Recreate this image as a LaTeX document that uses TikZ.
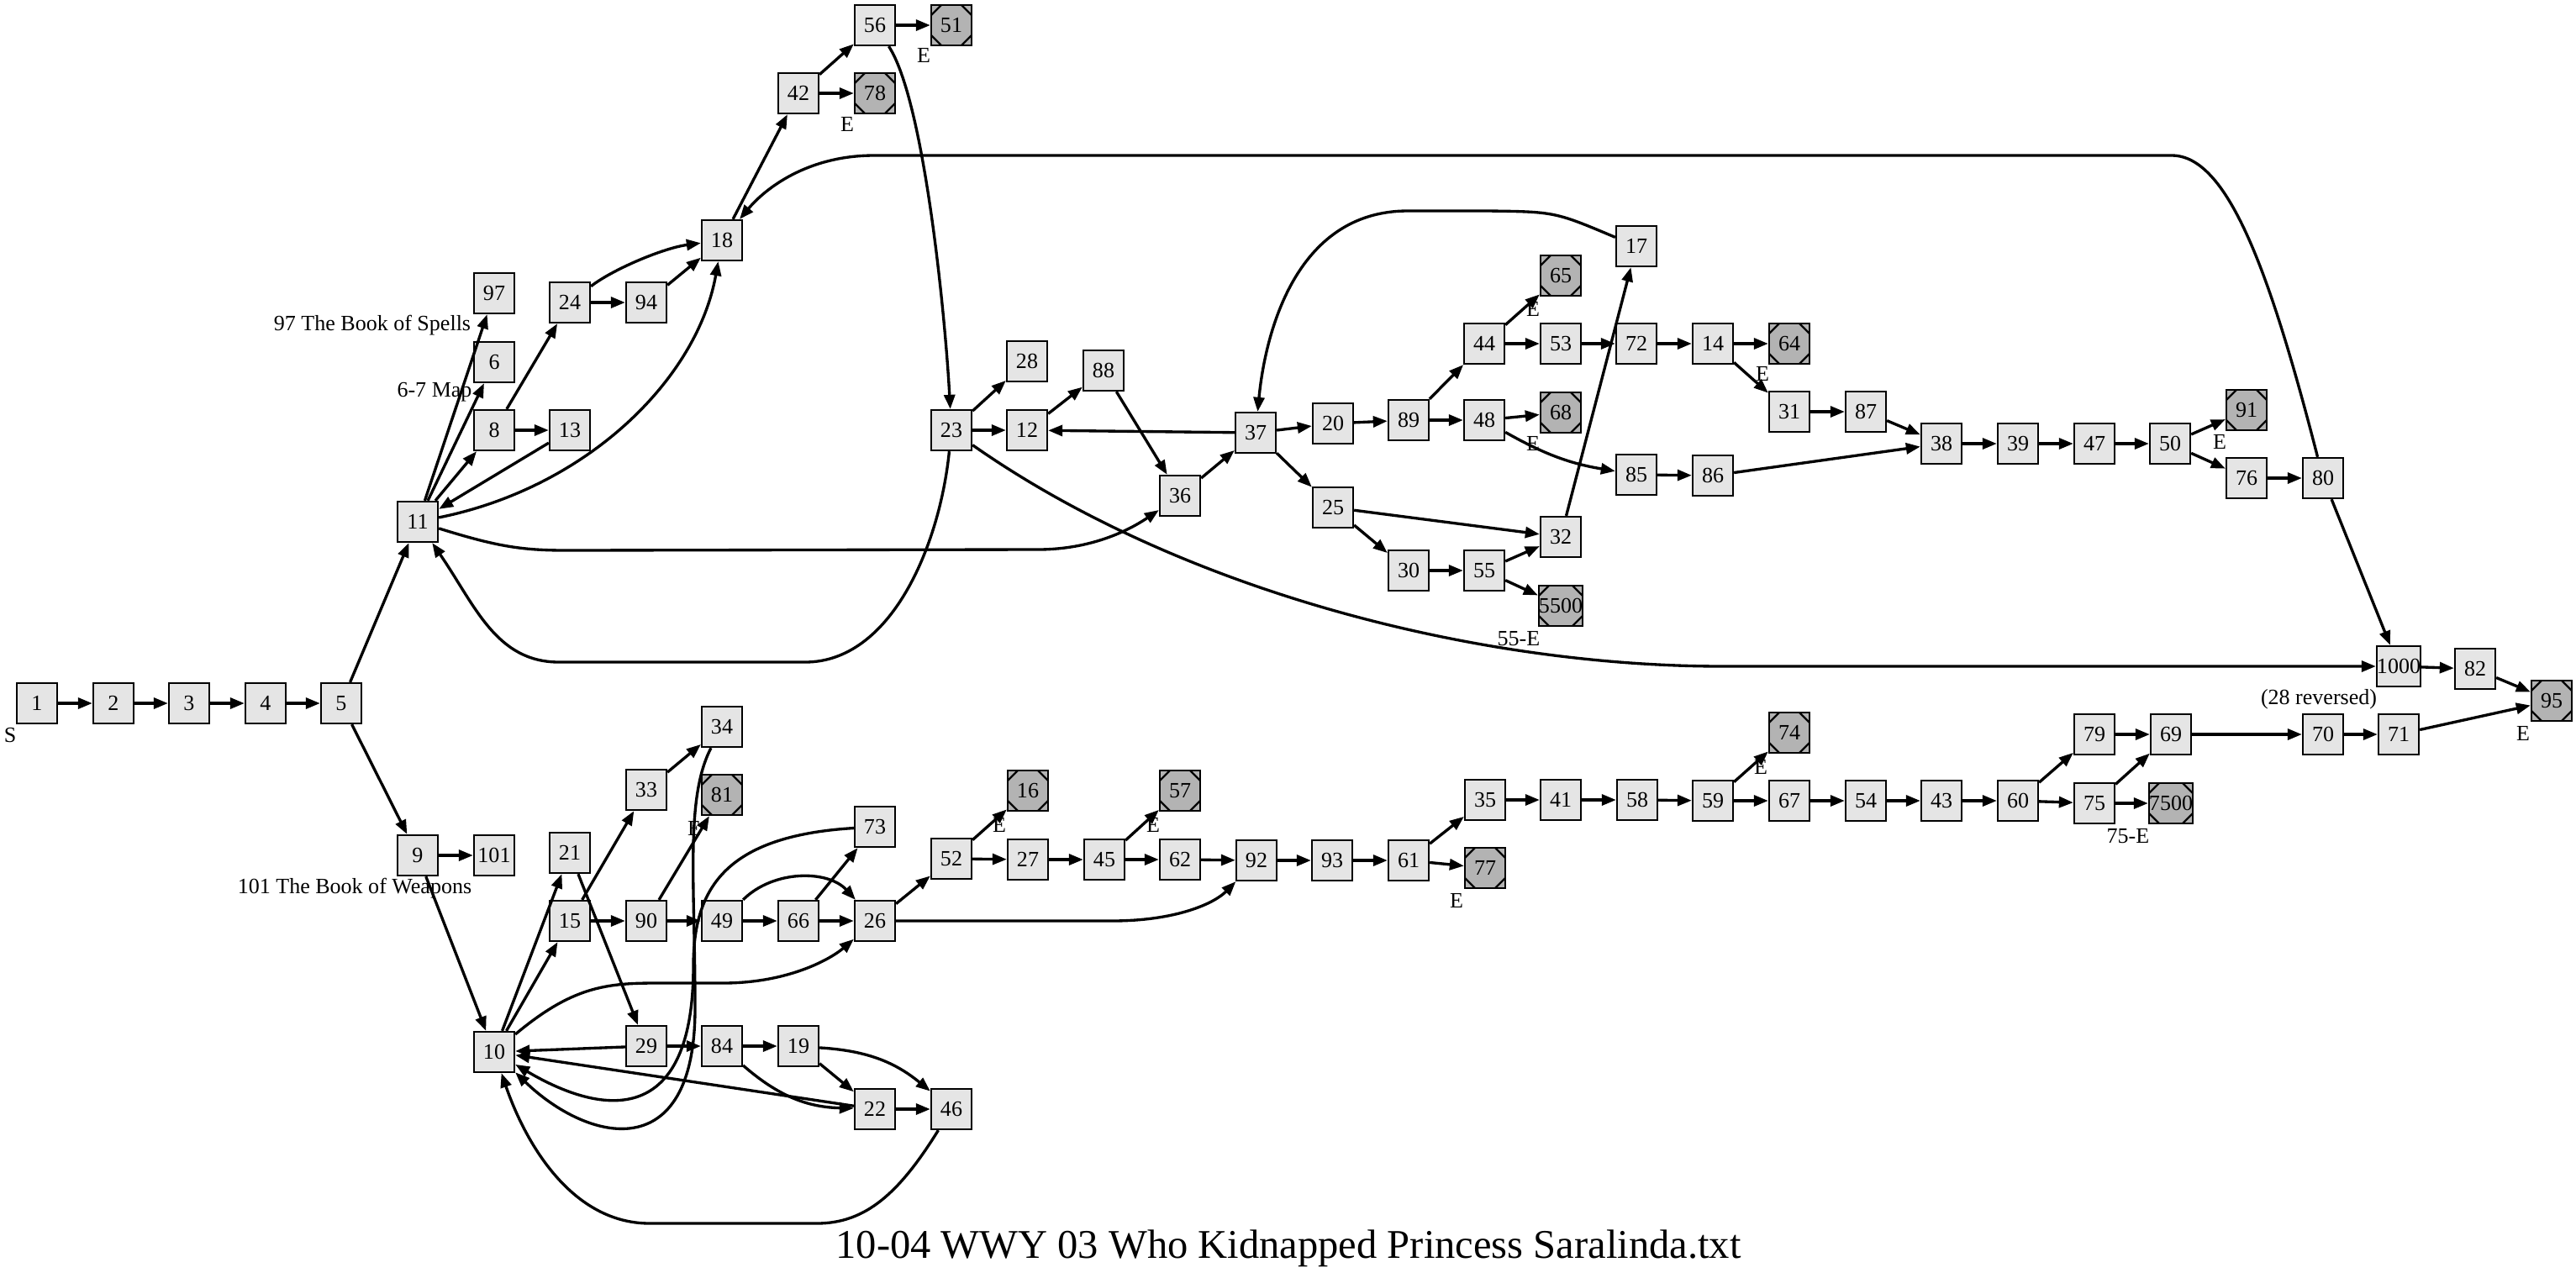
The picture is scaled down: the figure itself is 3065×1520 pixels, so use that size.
\documentclass[tikz,border=0pt]{standalone}
\usepackage{fontspec}
\usepackage{xcolor}
\usepackage{tikz}
\usetikzlibrary{arrows.meta}
\newfontfamily\pagefont{Liberation Serif}
\newfontfamily\titlefont{Liberation Serif}
\definecolor{PageGrey}{RGB}{229,229,229}
\definecolor{EndGrey}{RGB}{179,179,179}
\definecolor{InkBlack}{RGB}{0,0,0}
\tikzset{
  PageBox/.style={draw=InkBlack, fill=PageGrey, line width=0.65pt, minimum width=0.48cm,
    minimum height=0.48cm, inner sep=0pt, font=\pagefont\fontsize{7.4}{9}\selectfont},
  EndBox/.style={PageBox, fill=EndGrey,
    path picture={
      \draw[line width=0.65pt]
        ([xshift=0.12cm]path picture bounding box.north west) -- ([yshift=-0.12cm]path picture bounding box.north west)
        ([xshift=-0.12cm]path picture bounding box.north east) -- ([yshift=-0.12cm]path picture bounding box.north east)
        ([xshift=0.12cm]path picture bounding box.south west) -- ([yshift=0.12cm]path picture bounding box.south west)
        ([xshift=-0.12cm]path picture bounding box.south east) -- ([yshift=0.12cm]path picture bounding box.south east);
    }},
  Link/.style={draw=InkBlack, line width=0.95pt, -{Triangle[length=0.17cm, width=0.13cm]}},
  Note/.style={inner sep=0pt, font=\pagefont\fontsize{7.4}{9}\selectfont}
}

\begin{document}
\begin{tikzpicture}[x=0.01cm, y=-0.01cm]
  \useasboundingbox (0,0) rectangle (3065,1520);

  % start row
  \node[PageBox] (p1) at (44,837) {1};
  \node[PageBox] (p2) at (135,837) {2};
  \node[PageBox] (p3) at (225,837) {3};
  \node[PageBox] (p4) at (316,837) {4};
  \node[PageBox] (p5) at (406,837) {5};
  \node[PageBox] (p9) at (497,1018) {9};
  \node[PageBox] (p101) at (588,1018) {101};
  \node[PageBox] (p11) at (497,621) {11};

  % upper branch
  \node[PageBox] (p97) at (588,349) {97};
  \node[PageBox] (p6) at (588,431) {6};
  \node[PageBox] (p8) at (588,512) {8};
  \node[PageBox] (p13) at (678,512) {13};
  \node[PageBox] (p24) at (678,360) {24};
  \node[PageBox] (p94) at (769,360) {94};
  \node[PageBox] (p18) at (859,286) {18};
  \node[PageBox] (p42) at (950,111) {42};
  \node[PageBox] (p56) at (1041,30) {56};
  \node[EndBox] (p51) at (1132,30) {51};
  \node[EndBox] (p78) at (1041,111) {78};
  \node[PageBox] (p23) at (1132,512) {23};
  \node[PageBox] (p28) at (1222,430) {28};
  \node[PageBox] (p12) at (1222,512) {12};
  \node[PageBox] (p88) at (1313,441) {88};
  \node[PageBox] (p36) at (1404,590) {36};
  \node[PageBox] (p37) at (1494,515) {37};
  \node[PageBox] (p20) at (1586,504) {20};
  \node[PageBox] (p89) at (1676,500) {89};
  \node[PageBox] (p44) at (1766,409) {44};
  \node[PageBox] (p53) at (1857,409) {53};
  \node[PageBox] (p72) at (1947,409) {72};
  \node[PageBox] (p14) at (2038,409) {14};
  \node[EndBox] (p65) at (1857,328) {65};
  \node[PageBox] (p17) at (1947,293) {17};
  \node[EndBox] (p64) at (2129,409) {64};
  \node[PageBox] (p48) at (1766,500) {48};
  \node[EndBox] (p68) at (1857,491) {68};
  \node[PageBox] (p85) at (1947,565) {85};
  \node[PageBox] (p86) at (2038,566) {86};
  \node[PageBox] (p31) at (2129,490) {31};
  \node[PageBox] (p87) at (2220,490) {87};
  \node[PageBox] (p38) at (2310,528) {38};
  \node[PageBox] (p39) at (2401,528) {39};
  \node[PageBox] (p47) at (2492,528) {47};
  \node[PageBox] (p50) at (2582,528) {50};
  \node[EndBox] (p91) at (2673,488) {91};
  \node[PageBox] (p76) at (2673,569) {76};
  \node[PageBox] (p80) at (2764,569) {80};
  \node[PageBox] (p25) at (1586,604) {25};
  \node[PageBox] (p32) at (1857,639) {32};
  \node[PageBox] (p30) at (1676,679) {30};
  \node[PageBox] (p55) at (1766,679) {55};
  \node[EndBox] (p5500) at (1857,721) {5500};
  \node[PageBox] (p1000) at (2854,793) {1000};
  \node[PageBox] (p82) at (2945,796) {82};
  \node[EndBox] (p95) at (3036,834) {95};

  % lower branch
  \node[PageBox] (p10) at (588,1252) {10};
  \node[PageBox] (p21) at (678,1015) {21};
  \node[PageBox] (p15) at (678,1096) {15};
  \node[PageBox] (p33) at (769,940) {33};
  \node[PageBox] (p34) at (859,865) {34};
  \node[EndBox] (p81) at (859,946) {81};
  \node[PageBox] (p90) at (769,1096) {90};
  \node[PageBox] (p49) at (859,1096) {49};
  \node[PageBox] (p66) at (950,1096) {66};
  \node[PageBox] (p26) at (1041,1096) {26};
  \node[PageBox] (p73) at (1041,984) {73};
  \node[PageBox] (p29) at (769,1245) {29};
  \node[PageBox] (p84) at (859,1245) {84};
  \node[PageBox] (p19) at (950,1245) {19};
  \node[PageBox] (p22) at (1041,1320) {22};
  \node[PageBox] (p46) at (1132,1320) {46};
  \node[PageBox] (p52) at (1132,1022) {52};
  \node[EndBox] (p16) at (1223,941) {16};
  \node[PageBox] (p27) at (1223,1023) {27};
  \node[PageBox] (p45) at (1314,1023) {45};
  \node[EndBox] (p57) at (1404,941) {57};
  \node[PageBox] (p62) at (1404,1023) {62};
  \node[PageBox] (p92) at (1495,1024) {92};
  \node[PageBox] (p93) at (1585,1024) {93};
  \node[PageBox] (p61) at (1676,1024) {61};
  \node[EndBox] (p77) at (1767,1033) {77};
  \node[PageBox] (p35) at (1767,952) {35};
  \node[PageBox] (p41) at (1857,952) {41};
  \node[PageBox] (p58) at (1948,952) {58};
  \node[PageBox] (p59) at (2038,953) {59};
  \node[EndBox] (p74) at (2129,872) {74};
  \node[PageBox] (p67) at (2129,953) {67};
  \node[PageBox] (p54) at (2220,953) {54};
  \node[PageBox] (p43) at (2310,953) {43};
  \node[PageBox] (p60) at (2401,953) {60};
  \node[PageBox] (p79) at (2492,874) {79};
  \node[PageBox] (p75) at (2492,956) {75};
  \node[EndBox] (p7500) at (2583,956) {7500};
  \node[PageBox] (p69) at (2583,874) {69};
  \node[PageBox] (p70) at (2764,874) {70};
  \node[PageBox] (p71) at (2854,874) {71};

  % notes
  \node[Note] (sLbl) at (12,875) {S};
  \node[Note] (e51) at (1099,66) {E};
  \node[Note] (e78) at (1008,148) {E};
  \node[Note] (e65) at (1824,368) {E};
  \node[Note] (e68) at (1824,528) {E};
  \node[Note] (e5500) at (1807,760) {55-E};
  \node[Note] (e64) at (2097,445) {E};
  \node[Note] (e91) at (2641,526) {E};
  \node[Note] (rev28) at (2759,832) {(28 reversed)};
  \node[Note] (e95) at (3002,873) {E};
  \node[Note] (e81) at (826,986) {E};
  \node[Note] (e16) at (1189,982) {E};
  \node[Note] (e57) at (1372,982) {E};
  \node[Note] (e77) at (1733,1072) {E};
  \node[Note] (e74) at (2095,913) {E};
  \node[Note] (e7500) at (2532,995) {75-E};
  \node[Note] (spells) at (443,387) {97 The Book of Spells};
  \node[Note] (mapLbl) at (517,467) {6-7 Map};
  \node[Note] (weapons) at (422,1057) {101 The Book of Weapons};
  \node[inner sep=0pt, font=\titlefont\fontsize{13.8}{16}\selectfont] (title) at (1533,1486)
    {10-04 WWY 03 Who Kidnapped Princess Saralinda.txt};

  % straight links
  \draw[Link] (p1) -- (p2);
  \draw[Link] (p2) -- (p3);
  \draw[Link] (p3) -- (p4);
  \draw[Link] (p4) -- (p5);
  \draw[Link] (p5) -- (p11);
  \draw[Link] (p5) -- (p9);
  \draw[Link] (p9) -- (p101);
  \draw[Link] (p9) -- (p10);
  \draw[Link] (p11) -- (p97);
  \draw[Link] (p11) -- (p6);
  \draw[Link] (p11) -- (p8);
  \draw[Link] (p8) -- (p13);
  \draw[Link] (p13) -- (p11);
  \draw[Link] (p8) -- (p24);
  \draw[Link] (p24) -- (p94);
  \draw[Link] (p94) -- (p18);
  \draw[Link] (p18) -- (p42);
  \draw[Link] (p42) -- (p56);
  \draw[Link] (p42) -- (p78);
  \draw[Link] (p56) -- (p51);
  \draw[Link] (p23) -- (p28);
  \draw[Link] (p23) -- (p12);
  \draw[Link] (p12) -- (p88);
  \draw[Link] (p88) -- (p36);
  \draw[Link] (p36) -- (p37);
  \draw[Link] (p37) -- (p12);
  \draw[Link] (p37) -- (p20);
  \draw[Link] (p37) -- (p25);
  \draw[Link] (p20) -- (p89);
  \draw[Link] (p89) -- (p44);
  \draw[Link] (p89) -- (p48);
  \draw[Link] (p44) -- (p65);
  \draw[Link] (p44) -- (p53);
  \draw[Link] (p53) -- (p72);
  \draw[Link] (p72) -- (p14);
  \draw[Link] (p14) -- (p64);
  \draw[Link] (p14) -- (p31);
  \draw[Link] (p31) -- (p87);
  \draw[Link] (p87) -- (p38);
  \draw[Link] (p48) -- (p68);
  \draw[Link] (p48) to[bend right=10] (p85);
  \draw[Link] (p85) -- (p86);
  \draw[Link] (p86) -- (p38);
  \draw[Link] (p38) -- (p39);
  \draw[Link] (p39) -- (p47);
  \draw[Link] (p47) -- (p50);
  \draw[Link] (p50) -- (p91);
  \draw[Link] (p50) -- (p76);
  \draw[Link] (p76) -- (p80);
  \draw[Link] (p80) -- (p1000);
  \draw[Link] (p1000) -- (p82);
  \draw[Link] (p82) -- (p95);
  \draw[Link] (p25) -- (p32);
  \draw[Link] (p25) -- (p30);
  \draw[Link] (p30) -- (p55);
  \draw[Link] (p55) -- (p32);
  \draw[Link] (p55) -- (p5500);
  \draw[Link] (p32) -- (p17);
  \draw[Link] (p10) -- (p21);
  \draw[Link] (p10) -- (p15);
  \draw[Link] (p15) -- (p33);
  \draw[Link] (p33) -- (p34);
  \draw[Link] (p15) -- (p90);
  \draw[Link] (p90) -- (p81);
  \draw[Link] (p90) -- (p49);
  \draw[Link] (p49) -- (p66);
  \draw[Link] (p66) -- (p26);
  \draw[Link] (p66) -- (p73);
  \draw[Link] (p21) -- (p29);
  \draw[Link] (p29) -- (p10);
  \draw[Link] (p29) -- (p84);
  \draw[Link] (p84) -- (p19);
  \draw[Link] (p84) to[bend right=20] (p22);
  \draw[Link] (p19) -- (p22);
  \draw[Link] (p19) to[bend left=18] (p46);
  \draw[Link] (p22) -- (p46);
  \draw[Link] (p22) -- (p10);
  \draw[Link] (p26) -- (p52);
  \draw[Link] (p52) -- (p16);
  \draw[Link] (p52) -- (p27);
  \draw[Link] (p27) -- (p45);
  \draw[Link] (p45) -- (p57);
  \draw[Link] (p45) -- (p62);
  \draw[Link] (p62) -- (p92);
  \draw[Link] (p92) -- (p93);
  \draw[Link] (p93) -- (p61);
  \draw[Link] (p61) -- (p35);
  \draw[Link] (p61) -- (p77);
  \draw[Link] (p35) -- (p41);
  \draw[Link] (p41) -- (p58);
  \draw[Link] (p58) -- (p59);
  \draw[Link] (p59) -- (p74);
  \draw[Link] (p59) -- (p67);
  \draw[Link] (p67) -- (p54);
  \draw[Link] (p54) -- (p43);
  \draw[Link] (p43) -- (p60);
  \draw[Link] (p60) -- (p79);
  \draw[Link] (p60) -- (p75);
  \draw[Link] (p79) -- (p69);
  \draw[Link] (p75) -- (p69);
  \draw[Link] (p75) -- (p7500);
  \draw[Link] (p69) -- (p70);
  \draw[Link] (p70) -- (p71);
  \draw[Link] (p71) -- (p95);

  % curved links
  \draw[Link] (p24) .. controls (730,320) and (790,295) .. (p18);
  \draw[Link] (p11) .. controls (700,580) and (830,450) .. (p18);
  \draw[Link] (p56) .. controls (1100,120) and (1125,380) .. (p23);
  \draw[Link] (p80) .. controls (2700,320) and (2650,185) .. (2584,185) -- (1040,185)
    .. controls (960,185) and (910,225) .. (p18);
  \draw[Link] (p17) .. controls (1850,252) .. (1770,251) -- (1675,251)
    .. controls (1540,251) and (1505,400) .. (p37);
  \draw[Link] (p11) .. controls (590,650) and (620,655) .. (673,655) -- (1235,654)
    .. controls (1300,654) and (1345,630) .. (p36);
  \draw[Link] (p23) .. controls (1118,650) and (1060,788) .. (958,788) -- (665,788)
    .. controls (590,788) and (565,720) .. (p11);
  \draw[Link] (p23) .. controls (1400,700) and (1750,793) .. (2050,793) -- (p1000);
  \draw[Link] (p49) .. controls (920,1035) and (985,1035) .. (p26);
  \draw[Link] (p73) .. controls (860,995) and (825,1060) .. (825,1150)
    .. controls (825,1340) and (720,1330) .. (p10);
  \draw[Link] (p34) .. controls (815,950) and (827,1050) .. (827,1200)
    .. controls (827,1390) and (700,1360) .. (p10);
  \draw[Link] (p10) .. controls (680,1175) and (720,1170) .. (780,1170) -- (860,1170)
    .. controls (940,1170) and (990,1140) .. (p26);
  \draw[Link] (p46) .. controls (1070,1420) and (1030,1456) .. (972,1456) -- (773,1456)
    .. controls (680,1456) and (625,1360) .. (p10);
  \draw[Link] (p26) -- (1323,1096) .. controls (1400,1096) and (1445,1075) .. (p92);
\end{tikzpicture}
\end{document}
